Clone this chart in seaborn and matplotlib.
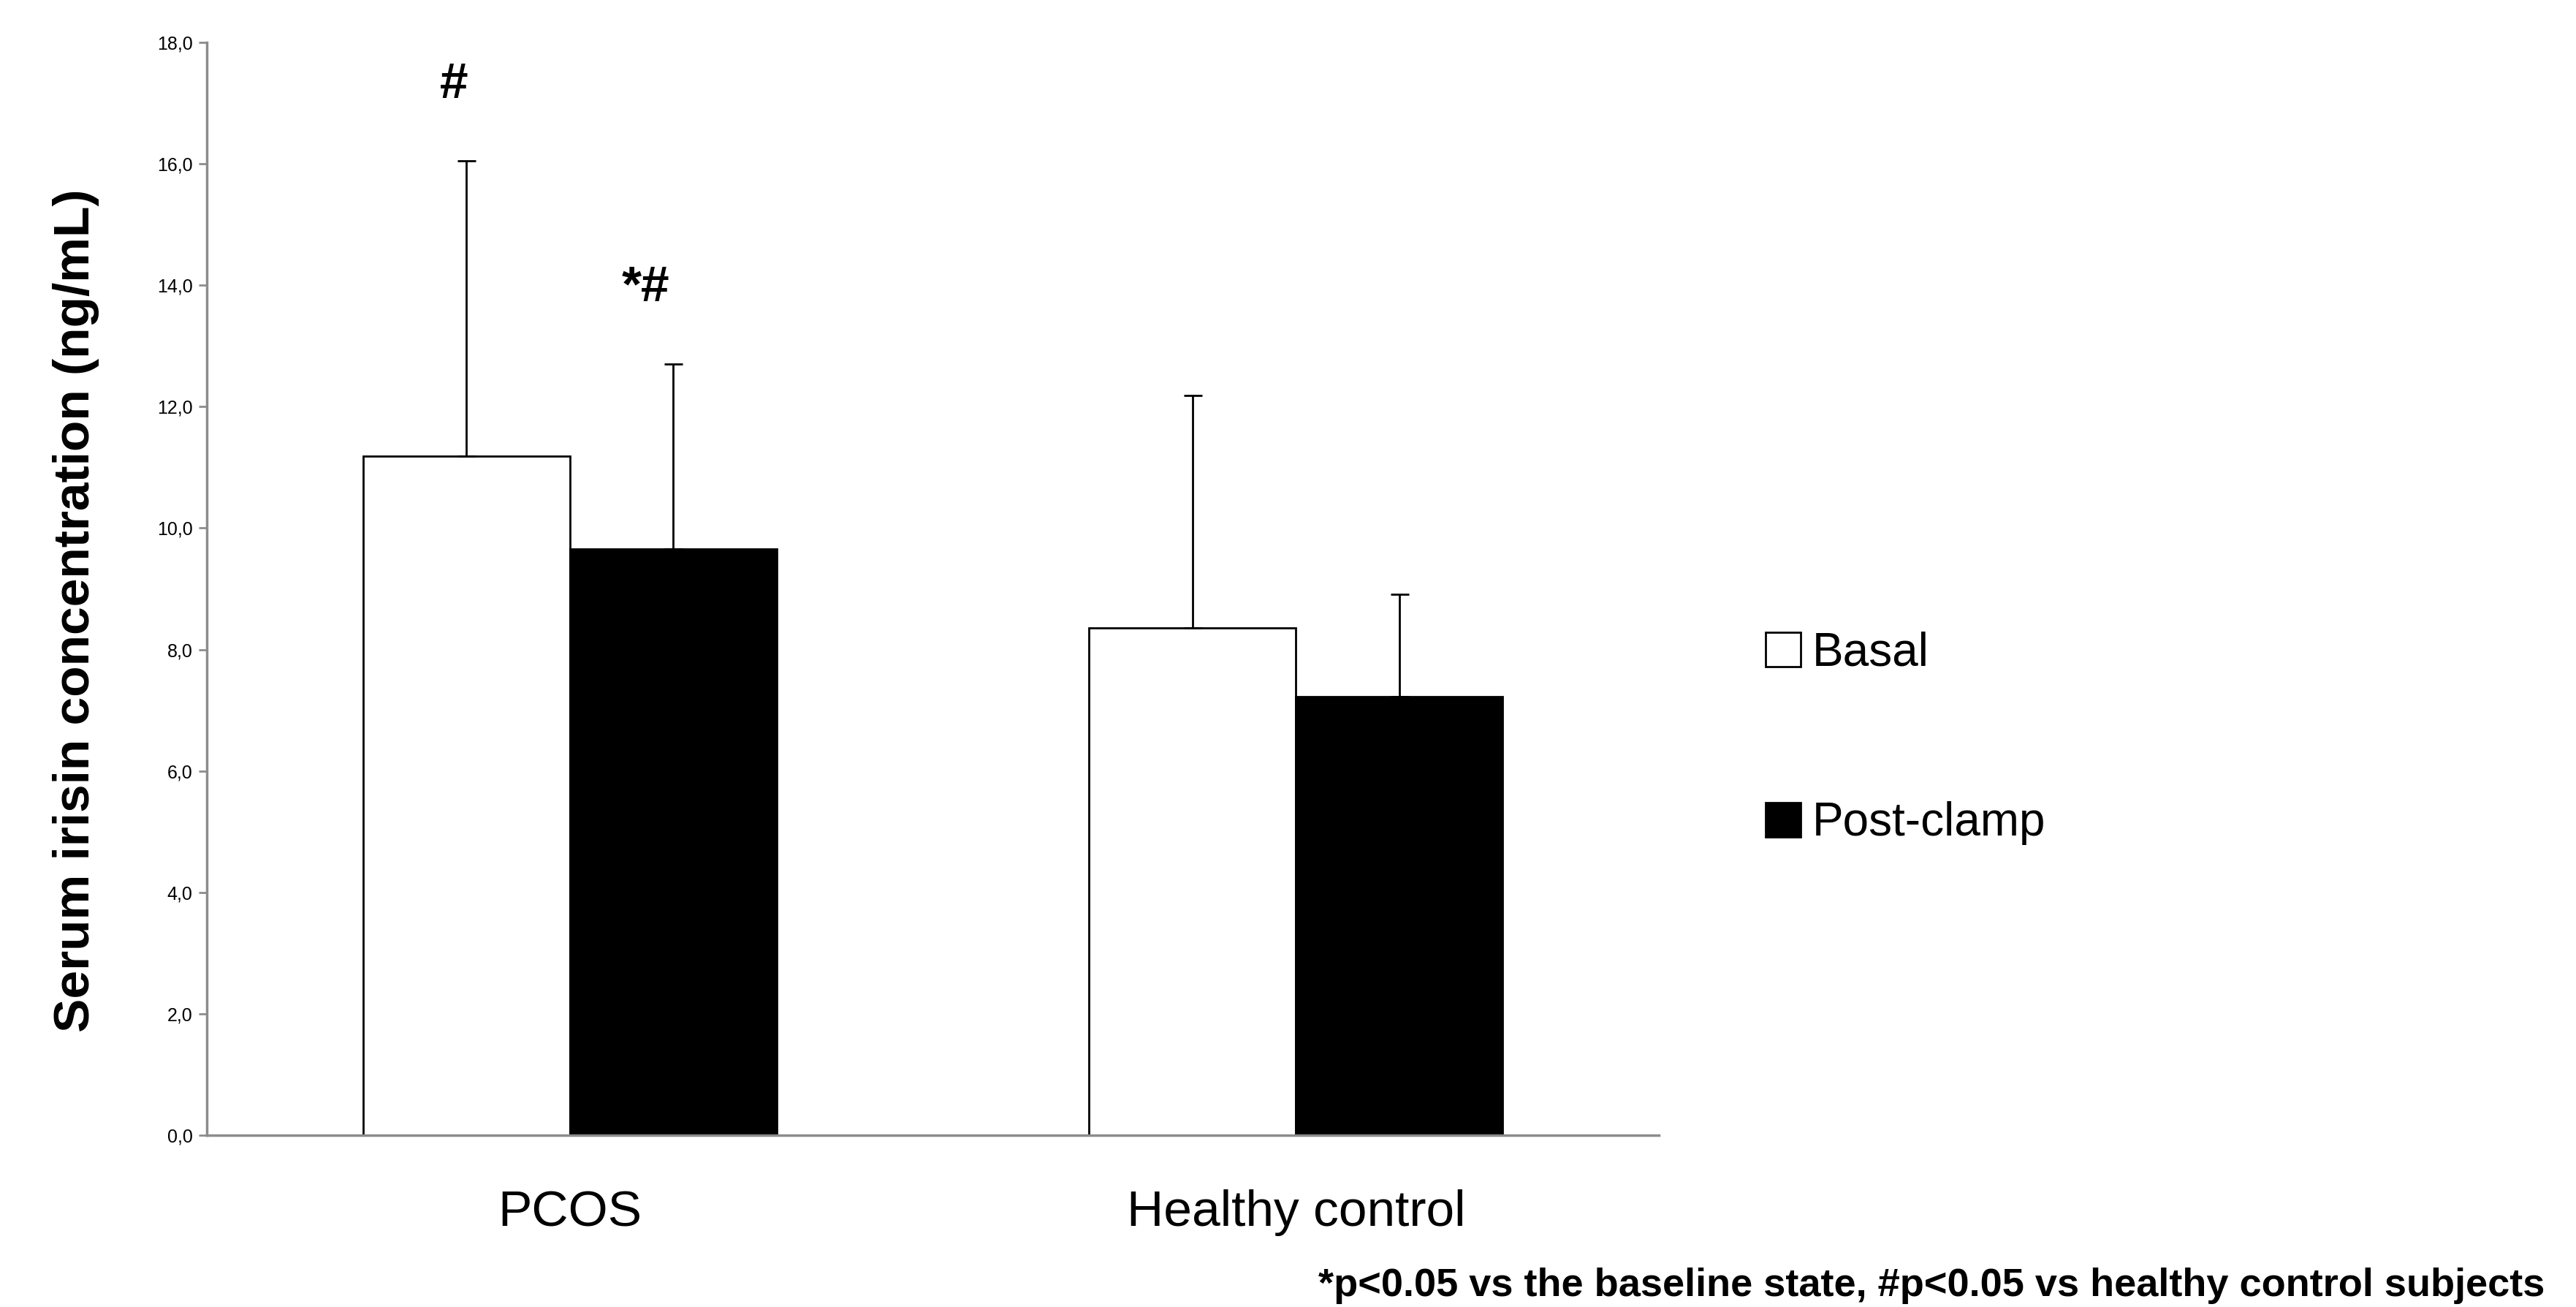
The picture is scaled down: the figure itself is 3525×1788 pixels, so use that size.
#!/usr/bin/python3
from matplotlib import pyplot as plt
from matplotlib import ticker as ticker
from matplotlib.patches import Patch
import pandas as pd
import seaborn as sns

sns.set_style('white', {'axes.grid': False})
plt.rcParams['font.family'] = ['Liberation Sans', 'DejaVu Sans']
plt.rcParams['text.color'] = 'black'
plt.rcParams['axes.labelcolor'] = 'black'
plt.rcParams['xtick.color'] = 'black'
plt.rcParams['ytick.color'] = 'black'

# values (ng/mL), mean and SD (upper bar only)
groups = ['PCOS', 'Healthy control']
conditions = ['Basal', 'Post-clamp']
basal_mean = [11.18, 8.36]
basal_sd = [4.87, 3.82]
post_mean = [9.66, 7.23]
post_sd = [3.04, 1.68]
yticks = [0, 2, 4, 6, 8, 10, 12, 14, 16, 18]
marks = ['#', '*#']
mark_x = [-0.16, 0.104]
mark_y = [17.3, 13.95]

df = pd.DataFrame({
    'group': groups + groups,
    'condition': [conditions[0]] * 2 + [conditions[1]] * 2,
    'mean': basal_mean + post_mean,
    'sd': basal_sd + post_sd,
})
print(df)

fig = plt.figure(figsize=(35.25, 17.88), dpi=100)
ax = fig.add_axes([0.0803, 0.1314, 0.5637, 0.8362])

sns.barplot(x='group', y='mean', hue='condition', data=df, order=groups,
            hue_order=conditions, palette=['white', 'black'], edgecolor='black',
            linewidth=2, width=0.57, errorbar=None, legend=False, ax=ax)

# one sided error bars at the bar centres
for cont, cond in zip(ax.containers, conditions):
    sub = df[df['condition'] == cond].set_index('group').loc[groups]
    xs = [p.get_x() + p.get_width() / 2 for p in cont.patches]
    ax.errorbar(xs, sub['mean'], yerr=[[0] * len(xs), sub['sd']], fmt='none',
                ecolor='black', elinewidth=2, capsize=9, capthick=2, zorder=3)

for t, x, y in zip(marks, mark_x, mark_y):
    ax.text(x, y, t, ha='center', va='center', fontsize=50, fontweight='bold')

ax.set(xlim=(-0.5, 1.5), ylim=(0, 18))
ax.yaxis.set_major_locator(ticker.FixedLocator(yticks))
ax.yaxis.set_major_formatter(ticker.FuncFormatter(lambda v, pos: ('%.1f' % v).replace('.', ',')))
ax.tick_params(axis='y', left=True, length=8, width=2, color='#8c8c8c', labelsize=18, pad=6)
ax.tick_params(axis='x', bottom=False, labelsize=50, pad=50)
for s in ['top', 'right']:
    ax.spines[s].set_visible(False)
for s in ['left', 'bottom']:
    ax.spines[s].set_color('#8c8c8c')
    ax.spines[s].set_linewidth(2.5)

ax.set_xlabel('')
ax.set_ylabel('Serum irisin concentration (ng/mL)', fontsize=50, fontweight='bold')
ax.yaxis.set_label_coords(-0.074, 0.48)

handles = [Patch(facecolor='white', edgecolor='black', linewidth=2),
           Patch(facecolor='black', edgecolor='black', linewidth=2)]
fig.legend(handles, conditions, loc='center left', bbox_to_anchor=(0.669, 0.435),
           frameon=False, fontsize=46, handlelength=0.75, handleheight=0.75,
           handletextpad=0.25, labelspacing=2.7)

fig.text(0.988, 0.016, '*p<0.05 vs the baseline state, #p<0.05 vs healthy control subjects',
         ha='right', va='center', fontsize=39, fontweight='bold')

plt.savefig('out.png', dpi=100)
print('finished')
